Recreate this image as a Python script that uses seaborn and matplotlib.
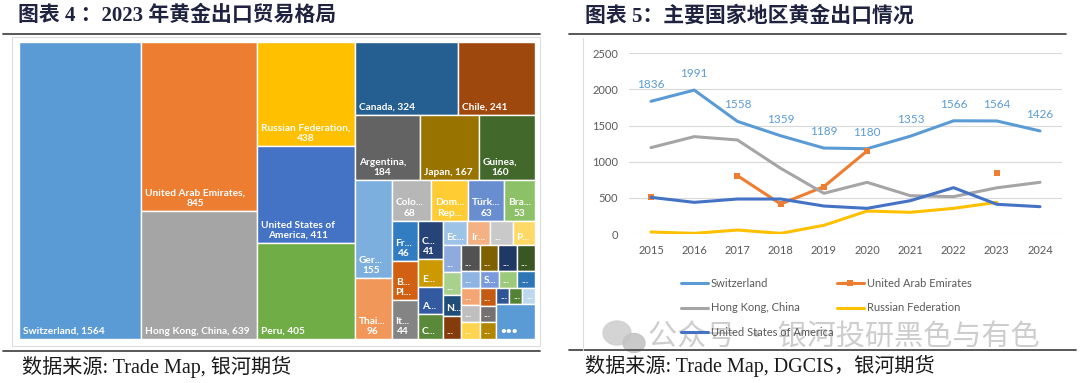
import numpy as np
import pandas as pd
import matplotlib
matplotlib.use("Agg")
import matplotlib.pyplot as plt
from matplotlib.patches import Rectangle, Ellipse
from matplotlib.lines import Line2D
import seaborn as sns

# === Treemap: 2023 gold export structure ===
tm_labels = [
    "Switzerland, 1564", "United Arab Emirates,\n845", "Hong Kong, China, 639",
    "Russian Federation,\n438", "United States of\nAmerica, 411", "Peru, 405",
    "Canada, 324", "Chile, 241", "Argentina,\n184", "Japan, 167", "Guinea,\n160",
    "Ger...\n155", "Thai...\n96", "Colo...\n68", "Dom...\nRep...", "Türk...\n63",
    "Bra...\n53", "Fr...\n46", "B...\nPl...", "It...\n44", "C...\n41", "E...",
    "A...", "C...", "Ec...", "Ir...", "...", "P...",
    "...", "...", "N...", "...",
    "...", "...", "...", "...",
    "...", "S...", "...", "...",
    "...", "...", "...",
    "...", "...", "...",
    "...", "...", "...",
    "•••",
]
tm_values = [
    1564, 845, 639,
    438, 411, 405,
    324, 241, 184, 167, 160,
    155, 96, 68, 64, 63,
    53, 46, 45, 44, 41, 30,
    28, 27, 26, 25, 24, 24,
    21, 18, 16, 18,
    21, 20, 20, 20,
    14, 14, 14, 13,
    14, 14, 14,
    13, 12, 12,
    9, 9, 9,
    58,
]
tm_colors = [
    "#5B9BD5", "#ED7D31", "#A5A5A5", "#FFC000", "#4472C4", "#70AD47",
    "#255E91", "#9E480E", "#636363", "#997300", "#43682B", "#7CAFDD",
    "#F1975A", "#B7B7B7", "#FFCD33", "#698ED0", "#8CC168", "#327DC2",
    "#D26012", "#848484", "#264478", "#CC9A00", "#335AA1", "#5A8A39",
    "#9DC3E6", "#F4B183", "#C9C9C9", "#FFD966", "#8FAADC", "#A9D18E",
    "#1F4E79", "#843C0C", "#525252", "#7F6000", "#203864", "#385723",
    "#8EB4E3", "#7A9BD9", "#9DC97A", "#2E75B6", "#F4A574", "#BFBFBF",
    "#FFD54F", "#C55A11", "#767171", "#B38600", "#2F5597", "#548235",
    "#BDD7EE", "#5B9BD5",
]
# strip structure of the treemap: (direction, number of cells)
tm_strips = [("col", 1), ("col", 2), ("col", 3), ("row", 2), ("row", 3),
             ("col", 2), ("row", 4), ("col", 3), ("col", 4), ("row", 4),
             ("col", 4), ("row", 4), ("row", 4), ("col", 3), ("col", 3),
             ("row", 3), ("col", 1)]

# === Line chart: gold exports of main countries ===
years = [2015, 2016, 2017, 2018, 2019, 2020, 2021, 2022, 2023, 2024]
switzerland = [1836, 1991, 1558, 1359, 1189, 1180, 1353, 1566, 1564, 1426]
uae = [517, np.nan, 807, 415, 655, 1149, np.nan, np.nan, 845, np.nan]
hong_kong = [1195, 1347, 1301, 909, 563, 715, 530, 517, 639, 715]
russia = [28, 9, 55, 9, 120, 318, 300, 355, 438, np.nan]
usa = [507, 438, 484, 484, 387, 355, 461, 641, 411, 378]

series_names = ["Switzerland", "United Arab Emirates", "Hong Kong, China",
                "Russian Federation", "United States of America"]
series_values = [switzerland, uae, hong_kong, russia, usa]
series_colors = ["#5B9BD5", "#ED7D31", "#A5A5A5", "#FFC000", "#4472C4"]

W, H = 1080, 383


def fx(px):
    return px / W


def fy(py):
    return 1 - py / H


def strip_layout(values, strips, x, y, w, h):
    rects = []
    i = 0
    remaining = float(sum(values))
    for direction, n in strips:
        chunk = values[i:i + n]
        s = float(sum(chunk))
        frac = s / remaining
        if direction == "col":
            cw = w * frac
            yy = y
            for v in chunk:
                ch = h * v / s
                rects.append((x, yy, cw, ch))
                yy += ch
            x += cw
            w -= cw
        else:
            rh = h * frac
            xx = x
            for v in chunk:
                cw = w * v / s
                rects.append((xx, y, cw, rh))
                xx += cw
            y += rh
            h -= rh
        remaining -= s
        i += n
    return rects


sns.set_theme(style="white")
plt.rcParams["font.family"] = ["Lato", "Noto Sans CJK SC", "DejaVu Sans"]

fig = plt.figure(figsize=(W / 100, H / 100), dpi=100)

serif_cjk = ["Liberation Serif", "Noto Sans CJK SC"]
title_color = "#1F2340"

# headers, rules and sources
fig.text(fx(18), fy(16), "图表 4 ：2023 年黄金出口贸易格局", family=serif_cjk,
         fontsize=15, fontweight="bold", color=title_color, va="center", ha="left")
fig.text(fx(585), fy(16), "图表 5：主要国家地区黄金出口情况", family=serif_cjk,
         fontsize=15, fontweight="bold", color=title_color, va="center", ha="left")
fig.text(fx(22), fy(367), "数据来源: Trade Map, 银河期货", family=serif_cjk,
         fontsize=14.5, color="#1a1a1a", va="center", ha="left")
fig.text(fx(585), fy(366), "数据来源: Trade Map, DGCIS，银河期货", family=serif_cjk,
         fontsize=14.5, color="#1a1a1a", va="center", ha="left")
for x0, x1, yy in [(3, 540, 34), (569, 1066, 34), (3, 540, 351), (569, 1076, 350)]:
    fig.add_artist(Line2D([fx(x0), fx(x1)], [fy(yy), fy(yy)], color="#4a4a4a",
                          lw=1.3, transform=fig.transFigure))

# light chart-area frames
fig.add_artist(Rectangle((fx(12), fy(346)), fx(540) - fx(12), fy(37) - fy(346),
                         fill=False, ec="#DDDDDD", lw=0.8, transform=fig.transFigure))
fig.add_artist(Line2D([fx(583), fx(583)], [fy(38), fy(350)], color="#DDDDDD",
                      lw=0.8, transform=fig.transFigure))

# === Treemap ===
tw, th = 516, 297
ax_tm = fig.add_axes([fx(19), fy(339), tw / W, th / H])
ax_tm.set_xlim(0, tw)
ax_tm.set_ylim(th, 0)
ax_tm.axis("off")
rects = strip_layout(tm_values, tm_strips, 0, 0, tw, th)
for (x, y, w, h), lab, col in zip(rects, tm_labels, tm_colors):
    ax_tm.add_patch(Rectangle((x, y), w, h, fc=col, ec="white", lw=1.0))
    ax_tm.text(x + 4, y + h - 3, lab, ha="left", va="bottom", multialignment="center",
               color="white", fontsize=7.3, fontweight="bold", clip_on=True)

# === Line chart ===
ax = fig.add_axes([fx(629.4), fy(234), fx(1061.6) - fx(629.4), fy(53.3) - fy(234)])
for name, vals, col in zip(series_names, series_values, series_colors):
    df = pd.DataFrame({"year": years, "value": vals})
    df["seg"] = df["value"].isna().cumsum()
    df = df.dropna()
    kw = {}
    if name == "United Arab Emirates":
        kw = dict(marker="s", markersize=5, markeredgewidth=0)
    sns.lineplot(data=df, x="year", y="value", units="seg", estimator=None,
                 color=col, lw=2.2, ax=ax, **kw)

for yr, v in zip(years, switzerland):
    ax.annotate(str(v), (yr, v), xytext=(0, 12), textcoords="offset points",
                ha="center", va="center", color="#5B9BD5", fontsize=8.5)

ax.set_xlim(2014.5, 2024.5)
ax.set_ylim(0, 2500)
ax.set_xticks(years)
ax.set_yticks(range(0, 2501, 500))
ax.grid(axis="y", color="#D9D9D9", lw=0.8)
ax.set_axisbelow(True)
for sp in ax.spines.values():
    sp.set_visible(False)
ax.tick_params(length=0, labelsize=8, labelcolor="#595959", pad=8)
ax.set_xlabel("")
ax.set_ylabel("")

handles = []
for name, col in zip(series_names, series_colors):
    if name == "United Arab Emirates":
        handles.append(Line2D([], [], color=col, lw=2.2, marker="s", markersize=5,
                              markeredgewidth=0))
    else:
        handles.append(Line2D([], [], color=col, lw=2.2))
order = [0, 2, 4, 1, 3]
fig.legend([handles[i] for i in order], [series_names[i] for i in order],
           loc="upper left", bbox_to_anchor=(fx(675), fy(272)), ncol=2,
           frameon=False, fontsize=8, labelcolor="#595959", handlelength=2.5,
           handletextpad=0.2, columnspacing=0.3, labelspacing=1.25, borderpad=0)

# watermark
fig.add_artist(Ellipse((fx(617), fy(333)), 28 / W, 24 / H, color="#D0D0D0",
                       transform=fig.transFigure, alpha=0.9))
fig.add_artist(Ellipse((fx(634), fy(343)), 22 / W, 19 / H, color="#C4C4C4",
                       transform=fig.transFigure, alpha=0.9))
fig.text(fx(648), fy(338), "公众号 · 银河投研黑色与有色", family=["Noto Sans CJK SC"],
         fontsize=21, color="#BDBDBD", alpha=0.75, va="center", ha="left")

fig.savefig("out.png", dpi=100)
